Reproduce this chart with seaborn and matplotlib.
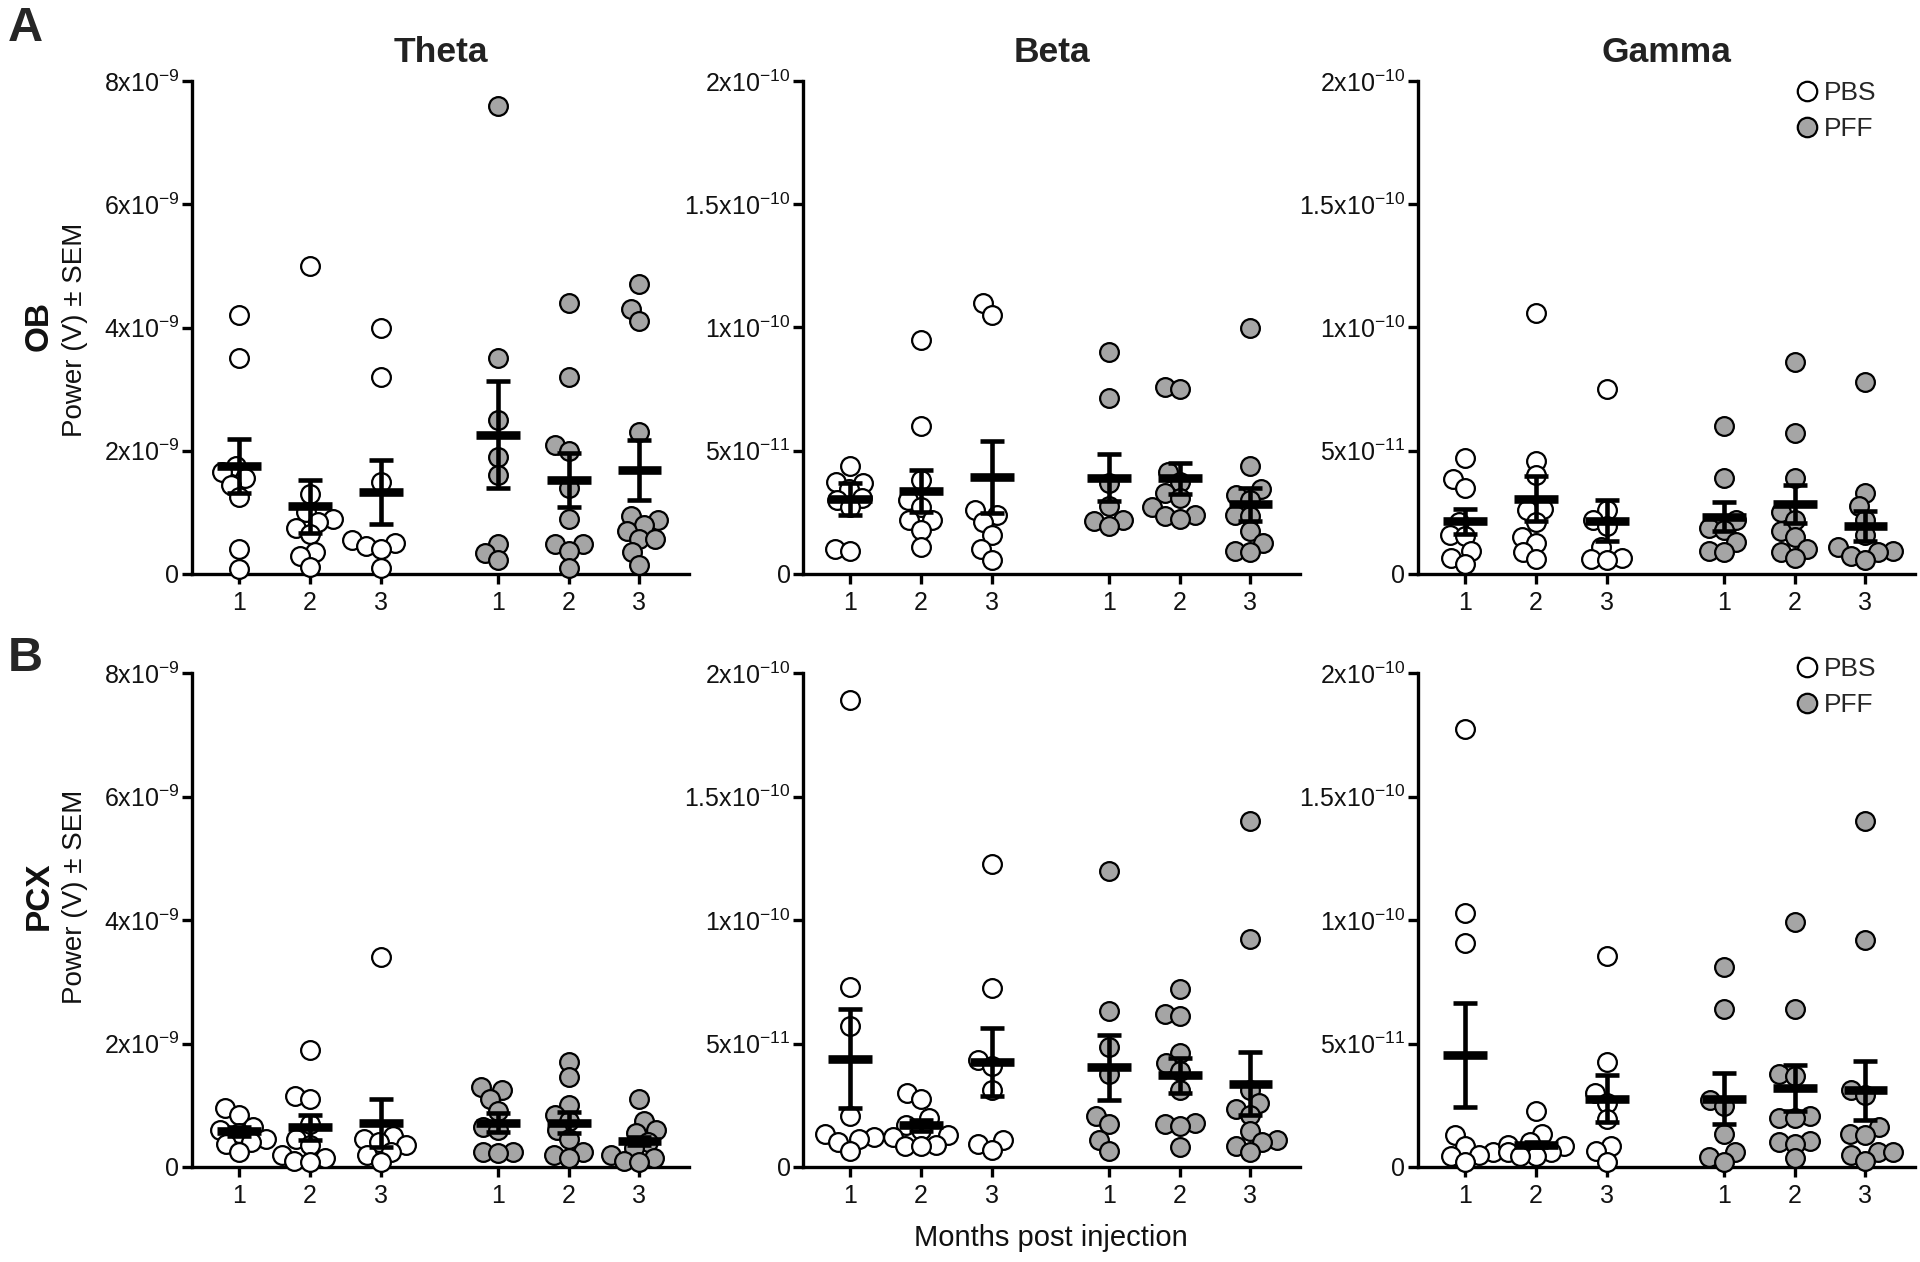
import warnings
warnings.filterwarnings("ignore")
import numpy as np
import pandas as pd
import matplotlib
matplotlib.use("Agg")
import matplotlib.pyplot as plt
from matplotlib.lines import Line2D
import seaborn as sns

# ---------------- data (values in units of the band's scale) ----------------
months = ["1", "2", "3"]
groups = ["PBS", "PFF"]
bands = ["Theta", "Beta", "Gamma"]
regions = ["OB", "PCX"]
band_scale = {"Theta": 1e-9, "Beta": 1e-11, "Gamma": 1e-11}
band_ymax = {"Theta": 8e-9, "Beta": 2e-10, "Gamma": 2e-10}
theta_ticks = [0, 2e-9, 4e-9, 6e-9, 8e-9]
theta_ticklabels = ["0", r"$\mathregular{2x10^{-9}}$", r"$\mathregular{4x10^{-9}}$",
                    r"$\mathregular{6x10^{-9}}$", r"$\mathregular{8x10^{-9}}$"]
fast_ticks = [0, 5e-11, 1e-10, 1.5e-10, 2e-10]
fast_ticklabels = ["0", r"$\mathregular{5x10^{-11}}$", r"$\mathregular{1x10^{-10}}$",
                   r"$\mathregular{1.5x10^{-10}}$", r"$\mathregular{2x10^{-10}}$"]

ob_theta_pbs = [[4.2, 3.5, 1.75, 1.65, 1.55, 1.45, 1.25, 0.4, 0.08],
                [5.0, 1.3, 1.0, 0.9, 0.85, 0.75, 0.65, 0.35, 0.3, 0.12],
                [4.0, 3.2, 1.5, 0.55, 0.5, 0.45, 0.4, 0.1]]
ob_theta_pff = [[7.6, 3.5, 2.5, 1.9, 1.6, 0.48, 0.34, 0.22],
                [4.4, 3.2, 2.1, 2.0, 1.4, 0.9, 0.48, 0.48, 0.38, 0.1],
                [4.7, 4.3, 4.1, 2.3, 0.94, 0.87, 0.8, 0.7, 0.57, 0.57, 0.35, 0.14]]
ob_beta_pbs = [[4.4, 3.75, 3.7, 3.45, 3.1, 3.0, 2.7, 1.0, 0.95],
               [9.5, 6.0, 3.8, 3.0, 2.7, 2.2, 2.2, 1.8, 1.1],
               [11.0, 10.5, 2.6, 2.4, 2.1, 1.6, 1.0, 0.55]]
ob_beta_pff = [[9.0, 7.15, 3.7, 2.75, 2.2, 2.15, 1.95],
               [7.6, 7.5, 4.15, 3.75, 3.3, 3.1, 2.7, 2.4, 2.35, 2.25],
               [10.0, 4.4, 3.45, 3.2, 3.0, 2.4, 2.35, 1.75, 1.25, 0.95, 0.9]]
ob_gamma_pbs = [[4.7, 3.85, 3.5, 2.1, 1.6, 1.55, 0.95, 0.65, 0.4],
                [10.6, 4.6, 4.0, 2.65, 2.6, 2.1, 1.5, 1.25, 0.9, 0.6],
                [7.5, 2.6, 2.2, 1.95, 1.1, 0.65, 0.6, 0.55]]
ob_gamma_pff = [[6.0, 3.9, 2.2, 1.85, 1.8, 1.3, 0.95, 0.9],
                [8.6, 5.7, 3.9, 2.5, 2.2, 1.75, 1.5, 1.0, 0.9, 0.65],
                [7.8, 3.3, 2.75, 2.2, 1.6, 1.1, 0.95, 0.9, 0.75, 0.55]]
pcx_theta_pbs = [[0.95, 0.85, 0.65, 0.6, 0.55, 0.45, 0.4, 0.38, 0.25],
                 [1.9, 1.15, 1.1, 0.7, 0.45, 0.35, 0.2, 0.15, 0.1, 0.08],
                 [3.4, 0.5, 0.45, 0.4, 0.35, 0.25, 0.2, 0.08]]
pcx_theta_pff = [[1.3, 1.25, 1.1, 0.9, 0.65, 0.6, 0.25, 0.25, 0.22],
                 [1.7, 1.45, 1.0, 0.85, 0.75, 0.6, 0.45, 0.25, 0.2, 0.15],
                 [1.1, 0.75, 0.6, 0.55, 0.4, 0.3, 0.2, 0.15, 0.1, 0.08]]
pcx_beta_pbs = [[18.9, 7.3, 5.7, 2.05, 1.35, 1.2, 1.15, 1.0, 0.65],
                [3.0, 2.75, 2.0, 1.7, 1.5, 1.3, 1.2, 0.9, 0.85, 0.85],
                [12.25, 7.25, 4.35, 4.1, 3.1, 1.1, 0.95, 0.7]]
pcx_beta_pff = [[12.0, 6.3, 4.85, 3.75, 2.05, 1.75, 1.1, 0.65],
                [7.2, 6.2, 6.1, 4.6, 4.2, 3.9, 3.1, 1.8, 1.75, 1.65, 0.8],
                [14.0, 9.25, 3.1, 2.6, 2.35, 2.1, 1.45, 1.1, 1.0, 0.85, 0.6]]
pcx_gamma_pbs = [[17.75, 10.3, 9.05, 1.3, 0.85, 0.6, 0.5, 0.45, 0.2],
                 [2.25, 1.35, 1.0, 0.9, 0.85, 0.6, 0.6, 0.45, 0.45],
                 [8.55, 4.25, 3.0, 2.6, 1.95, 0.85, 0.65, 0.2]]
pcx_gamma_pff = [[8.1, 6.4, 2.7, 2.45, 1.35, 0.6, 0.4, 0.2],
                 [9.9, 6.4, 3.75, 3.7, 2.05, 2.0, 2.0, 1.05, 1.0, 0.95, 0.35],
                 [14.0, 9.2, 3.1, 2.9, 1.6, 1.35, 1.3, 0.6, 0.6, 0.5, 0.25]]

# mean and SEM: PBS m1..m3, PFF m1..m3
mean_ob_theta = [1.75, 1.10, 1.33, 2.26, 1.53, 1.69]
sem_ob_theta = [0.44, 0.43, 0.52, 0.87, 0.44, 0.49]
mean_ob_beta = [3.06, 3.37, 3.94, 3.91, 3.88, 2.82]
sem_ob_beta = [0.65, 0.84, 1.46, 0.95, 0.62, 0.65]
mean_ob_gamma = [2.13, 3.06, 2.16, 2.33, 2.85, 1.94]
sem_ob_gamma = [0.50, 0.93, 0.83, 0.60, 0.78, 0.62]
mean_pcx_theta = [0.58, 0.64, 0.71, 0.72, 0.72, 0.42]
sem_pcx_theta = [0.07, 0.20, 0.39, 0.15, 0.165, 0.06]
mean_pcx_beta = [4.39, 1.69, 4.26, 4.04, 3.71, 3.38]
sem_pcx_beta = [1.99, 0.22, 1.37, 1.31, 0.70, 1.26]
mean_pcx_gamma = [4.54, 0.91, 2.77, 2.77, 3.18, 3.10]
sem_pcx_gamma = [2.10, 0.12, 0.96, 1.02, 0.93, 1.20]

panels = {
    ("OB", "Theta"): (ob_theta_pbs, ob_theta_pff, mean_ob_theta, sem_ob_theta),
    ("OB", "Beta"): (ob_beta_pbs, ob_beta_pff, mean_ob_beta, sem_ob_beta),
    ("OB", "Gamma"): (ob_gamma_pbs, ob_gamma_pff, mean_ob_gamma, sem_ob_gamma),
    ("PCX", "Theta"): (pcx_theta_pbs, pcx_theta_pff, mean_pcx_theta, sem_pcx_theta),
    ("PCX", "Beta"): (pcx_beta_pbs, pcx_beta_pff, mean_pcx_beta, sem_pcx_beta),
    ("PCX", "Gamma"): (pcx_gamma_pbs, pcx_gamma_pff, mean_pcx_gamma, sem_pcx_gamma),
}

# ---------------- style ----------------
sns.set_theme(style="white")
plt.rcParams["font.family"] = ["Liberation Sans", "DejaVu Sans"]
plt.rcParams["mathtext.fontset"] = "custom"
plt.rcParams["mathtext.rm"] = "Liberation Sans"
plt.rcParams["axes.unicode_minus"] = False

FILL = {"PBS": "white", "PFF": "#a5a5a5"}
GROUP_POS = {"PBS": [0.0, 1.0, 2.0], "PFF": [3.66, 4.66, 5.66]}
MARKER = 13.5          # drawn marker diameter (pt)
PACK = 9.0             # effective diameter used for packing, so markers overlap like the original
W, H = 1920, 1262
fig = plt.figure(figsize=(W / 100, H / 100), dpi=100)

ax_left = [192, 803, 1418]
ax_w = 497
row_top = [81, 673]
row_zero = [574, 1167]
legend_mid = [111, 687]

for r, region in enumerate(regions):
    for b, band in enumerate(bands):
        pbs, pff, means, sems = panels[(region, band)]
        scale = band_scale[band]
        ax = fig.add_axes([ax_left[b] / W, 1 - row_zero[r] / H, ax_w / W,
                           (row_zero[r] - row_top[r]) / H])
        rows = []
        for g, vals in zip(groups, (pbs, pff)):
            for m, v in enumerate(vals):
                for val in v:
                    rows.append({"x": GROUP_POS[g][m], "power": val * scale, "group": g})
        df = pd.DataFrame(rows)
        for g in groups:
            sub = df[df["group"] == g]
            n_before = len(ax.collections)
            sns.swarmplot(data=sub, x="x", y="power", native_scale=True, orient="v",
                          color=FILL[g], edgecolor="black", linewidth=1.6, size=MARKER,
                          ax=ax, zorder=3, clip_on=False)
            for coll in ax.collections[n_before:]:
                small = np.full(len(coll.get_offsets()), PACK ** 2)
                coll.get_sizes = (lambda s=small: s)
        xs = GROUP_POS["PBS"] + GROUP_POS["PFF"]
        mv = np.array(means) * scale
        sv = np.array(sems) * scale
        ax.errorbar(xs, mv, yerr=sv, fmt="none", ecolor="black", elinewidth=3.3,
                    capsize=8.5, capthick=3.3, zorder=5, clip_on=False)
        ax.hlines(mv, np.array(xs) - 0.31, np.array(xs) + 0.31, color="black",
                  lw=6.2, zorder=6)
        for c in ax.collections:
            c.set_clip_on(False)
        ax.set_xlim(-0.667, 6.36)
        ax.set_ylim(0, band_ymax[band])
        ax.set_xticks(xs)
        ax.set_xticklabels(months + months)
        if band == "Theta":
            ax.set_yticks(theta_ticks)
            ax.set_yticklabels(theta_ticklabels)
        else:
            ax.set_yticks(fast_ticks)
            ax.set_yticklabels(fast_ticklabels)
        ax.set_xlabel("")
        ax.set_ylabel("")
        sns.despine(ax=ax)
        for s in ("left", "bottom"):
            ax.spines[s].set_linewidth(2.4)
            ax.spines[s].set_color("black")
        ax.tick_params(axis="both", which="major", direction="out", length=7,
                       width=2.4, color="black", labelsize=18, labelcolor="#111111",
                       left=True, bottom=True)
        ax.tick_params(axis="x", pad=5)
        ax.tick_params(axis="y", pad=2)
        ax.patch.set_alpha(0)

        if r == 0:
            fig.text((ax_left[b] + ax_w / 2) / W, 1 - 52 / H, band, ha="center",
                     va="center", fontsize=25.5, fontweight="bold", color="#222222")
        if b == 2:
            handles = [Line2D([], [], marker="o", linestyle="none", markersize=14,
                              markerfacecolor=FILL[g], markeredgecolor="black",
                              markeredgewidth=1.6) for g in groups]
            ax.legend(handles, groups, loc="center left",
                      bbox_to_anchor=(1778 / W, 1 - legend_mid[r] / H),
                      bbox_transform=fig.transFigure, frameon=False, fontsize=19,
                      handletextpad=0.05, labelspacing=0.45, borderpad=0,
                      handlelength=1.2)

# row labels
for r, region in enumerate(regions):
    yc = [326, 896][r]
    fig.text(39 / W, 1 - yc / H, region, rotation=90, ha="center", va="center",
             fontsize=24, fontweight="bold", color="#111111")
    fig.text(75 / W, 1 - [330, 897][r] / H, "Power (V) \u00b1 SEM", rotation=90,
             ha="center", va="center", fontsize=20, color="#111111")

fig.text(8 / W, 1 - 6 / H, "A", ha="left", va="top", fontsize=35, fontweight="bold")
fig.text(8 / W, 1 - 636 / H, "B", ha="left", va="top", fontsize=35, fontweight="bold")
fig.text(1051 / W, 1 - 1238 / H, "Months post injection", ha="center", va="center",
         fontsize=21, color="#111111")

fig.savefig("out.png", dpi=100)
